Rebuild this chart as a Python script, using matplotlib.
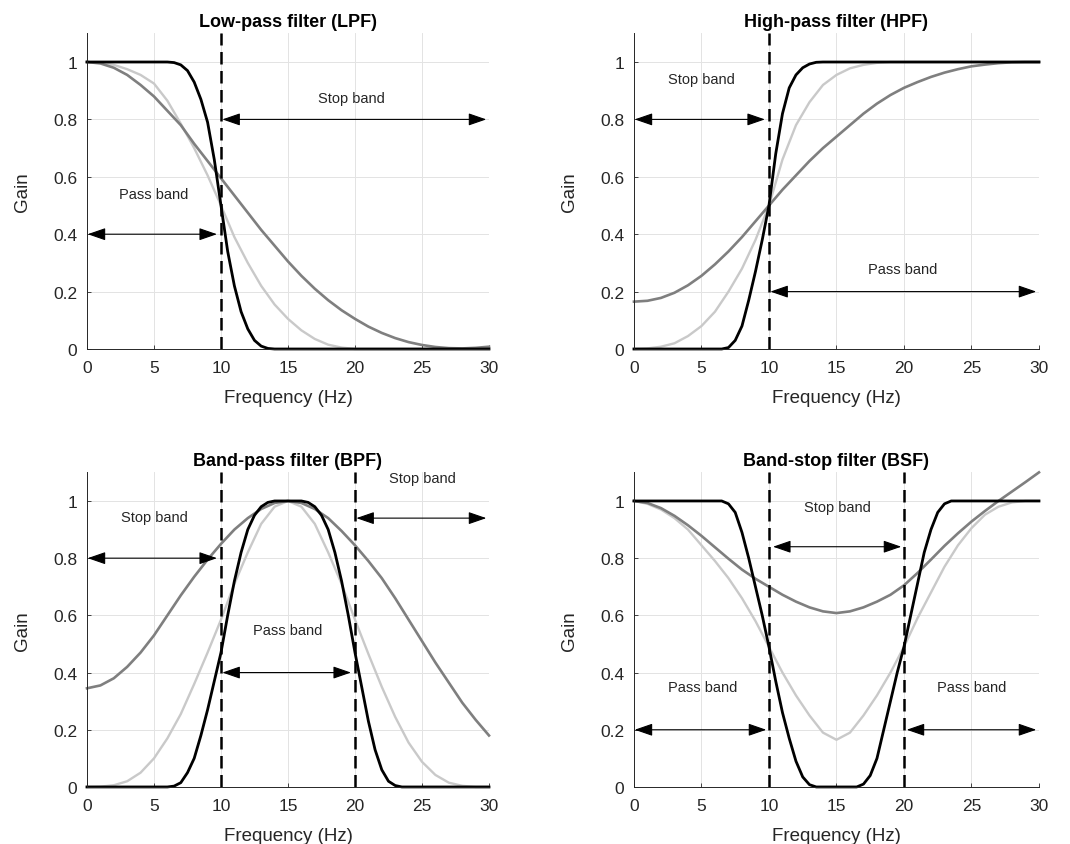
import matplotlib
matplotlib.use("Agg")
import matplotlib.pyplot as plt

plt.rcParams['font.family'] = ['Liberation Sans', 'DejaVu Sans']

# frequency grids (Hz): coarse for the gentle responses, fine for the sharp ones
FREQ = list(range(31))
FREQ_FINE = [i / 2 for i in range(61)]

# ---- low-pass ----
lpf_sharp = ([1.0] * 13 +
             [0.998, 0.99, 0.97, 0.93, 0.87, 0.79, 0.66, 0.5, 0.34, 0.22,
              0.13, 0.07, 0.03, 0.01, 0.002] +
             [0.0] * 33)
lpf_mid = [1.0, 0.997, 0.99, 0.975, 0.955, 0.925, 0.865, 0.785, 0.70, 0.605,
           0.5, 0.39, 0.3, 0.22, 0.155, 0.105, 0.065, 0.035, 0.015, 0.005] + [0.0] * 11
lpf_soft = [1.0, 0.995, 0.98, 0.955, 0.92, 0.88, 0.83, 0.78, 0.715, 0.655,
            0.595, 0.535, 0.475, 0.415, 0.36, 0.305, 0.255, 0.21, 0.17, 0.135,
            0.105, 0.078, 0.056, 0.038, 0.024, 0.014, 0.007, 0.003, 0.002, 0.004, 0.008]

# ---- high-pass ----
hpf_sharp = ([0.0] * 13 +
             [0.0, 0.005, 0.03, 0.08, 0.17, 0.27, 0.38, 0.5, 0.68, 0.82,
              0.91, 0.955, 0.98, 0.993, 0.999] +
             [1.0] * 33)
hpf_mid = [0.0, 0.002, 0.008, 0.02, 0.045, 0.08, 0.13, 0.2, 0.28, 0.38,
           0.5, 0.66, 0.78, 0.86, 0.92, 0.955, 0.978, 0.99, 0.997] + [1.0] * 12
hpf_soft = [0.165, 0.168, 0.178, 0.196, 0.222, 0.255, 0.295, 0.34, 0.39, 0.445,
            0.5, 0.555, 0.605, 0.655, 0.7, 0.74, 0.78, 0.82, 0.855, 0.885,
            0.91, 0.93, 0.948, 0.963, 0.975, 0.985, 0.991, 0.996, 0.999, 1.0, 1.0]

# ---- band-pass ----
bpf_sharp = ([0.0] * 13 +
             [0.003, 0.015, 0.05, 0.1, 0.18, 0.27, 0.37, 0.47, 0.6, 0.72,
              0.82, 0.9, 0.95, 0.98, 0.995] +
             [1.0] * 5 +
             [0.995, 0.98, 0.95, 0.9, 0.82, 0.72, 0.6, 0.47, 0.35, 0.23,
              0.13, 0.06, 0.02, 0.005] +
             [0.0] * 14)
bpf_mid = [0.0, 0.001, 0.006, 0.02, 0.05, 0.1, 0.17, 0.255, 0.36, 0.47,
           0.585, 0.71, 0.82, 0.92, 0.98, 1.0, 0.98, 0.92, 0.82, 0.71,
           0.585, 0.465, 0.35, 0.245, 0.155, 0.088, 0.042, 0.015, 0.004, 0.0, 0.0]
bpf_soft = [0.345, 0.355, 0.38, 0.42, 0.47, 0.53, 0.6, 0.67, 0.735, 0.795,
            0.85, 0.9, 0.94, 0.972, 0.993, 1.0, 0.993, 0.972, 0.94, 0.895,
            0.845, 0.79, 0.73, 0.66, 0.585, 0.51, 0.435, 0.365, 0.295, 0.235, 0.18]

# ---- band-stop ----
bsf_sharp = ([1.0] * 14 +
             [0.99, 0.96, 0.89, 0.8, 0.7, 0.6, 0.49, 0.37, 0.26, 0.17,
              0.09, 0.035, 0.008] +
             [0.0] * 7 +
             [0.01, 0.04, 0.1, 0.2, 0.3, 0.4, 0.49, 0.6, 0.71, 0.82,
              0.9, 0.96, 0.99] +
             [1.0] * 14)
bsf_mid = [1.0, 0.99, 0.97, 0.94, 0.9, 0.845, 0.79, 0.73, 0.66, 0.58,
           0.49, 0.4, 0.32, 0.25, 0.19, 0.165, 0.19, 0.25, 0.32, 0.4,
           0.49, 0.59, 0.68, 0.77, 0.845, 0.905, 0.952, 0.98, 0.995, 1.0, 1.0]
bsf_soft = [1.0, 0.993, 0.975, 0.948, 0.915, 0.878, 0.838, 0.798, 0.76, 0.728,
            0.7, 0.672, 0.648, 0.628, 0.614, 0.608, 0.614, 0.628, 0.648, 0.672,
            0.705, 0.748, 0.795, 0.843, 0.887, 0.928, 0.965, 1.0, 1.033, 1.066, 1.1]

titles = ["Low-pass filter (LPF)", "High-pass filter (HPF)",
          "Band-pass filter (BPF)", "Band-stop filter (BSF)"]
cutoffs = [[10], [10], [10, 20], [10, 20]]
sharp = [lpf_sharp, hpf_sharp, bpf_sharp, bsf_sharp]
mid = [lpf_mid, hpf_mid, bpf_mid, bsf_mid]
soft = [lpf_soft, hpf_soft, bpf_soft, bsf_soft]

# band labels: (text, x, y) and arrows: (x_start, x_end, y)
labels = [
    [("Pass band", 5.0, 0.54), ("Stop band", 19.7, 0.875)],
    [("Stop band", 5.0, 0.94), ("Pass band", 19.9, 0.28)],
    [("Stop band", 5.0, 0.945), ("Pass band", 15.0, 0.55), ("Stop band", 25.0, 1.08)],
    [("Stop band", 15.1, 0.98), ("Pass band", 5.1, 0.35), ("Pass band", 25.0, 0.35)],
]
arrows = [
    [(0.05, 9.7, 0.4), (10.1, 29.8, 0.8)],
    [(0.05, 9.7, 0.8), (10.1, 29.8, 0.2)],
    [(0.05, 9.7, 0.8), (10.1, 19.7, 0.4), (20.1, 29.8, 0.94)],
    [(10.3, 19.8, 0.84), (0.05, 9.8, 0.2), (20.2, 29.8, 0.2)],
]

positions = [
    [0.0813, 0.5858, 0.3757, 0.3736],
    [0.5925, 0.5858, 0.3785, 0.3736],
    [0.0813, 0.0675, 0.3757, 0.3723],
    [0.5925, 0.0675, 0.3785, 0.3723],
]

axis_col = '#262626'

fig = plt.figure(figsize=(10.7, 8.45), dpi=100)

for i in range(4):
    ax = fig.add_axes(positions[i])
    ax.set_xlim(0, 30)
    ax.set_ylim(0, 1.1)
    ax.set_xticks([0, 5, 10, 15, 20, 25, 30])
    ax.set_yticks([0, 0.2, 0.4, 0.6, 0.8, 1.0])
    ax.set_yticklabels(["0", "0.2", "0.4", "0.6", "0.8", "1"])
    ax.grid(True, color='#e3e3e3', lw=0.7)
    ax.set_axisbelow(True)
    for s in ['top', 'right']:
        ax.spines[s].set_visible(False)
    for s in ['left', 'bottom']:
        ax.spines[s].set_color(axis_col)
        ax.spines[s].set_linewidth(0.7)
    ax.tick_params(direction='in', length=3, width=0.6, colors=axis_col,
                   labelsize=12.5)
    ax.tick_params(axis='y', pad=7)
    ax.tick_params(axis='x', pad=8)

    ax.plot(FREQ, mid[i], color='#c9c9c9', lw=1.7, clip_on=False)
    ax.plot(FREQ, soft[i], color='#7f7f7f', lw=1.9, clip_on=False)
    ax.plot(FREQ_FINE, sharp[i], color='black', lw=2.0, clip_on=False)

    for c in cutoffs[i]:
        ax.axvline(c, color='black', lw=1.8, ls=(0, (5, 2.6)))

    for txt, x, y in labels[i]:
        ax.text(x, y, txt, ha='center', va='center', fontsize=10.5, color=axis_col)
    for x0, x1, y in arrows[i]:
        ax.annotate('', xy=(x1, y), xytext=(x0, y),
                    arrowprops=dict(arrowstyle='<|-|>,head_length=1.1,head_width=0.38',
                                    color='black', lw=0.8, shrinkA=0, shrinkB=0))

    ax.set_title(titles[i], fontsize=13, fontweight='bold', pad=5)
    ax.set_xlabel("Frequency (Hz)", fontsize=13.5, color=axis_col, labelpad=10)
    ax.set_ylabel("Gain", fontsize=13.5, color=axis_col, labelpad=16)

fig.savefig("out.png", dpi=100)
